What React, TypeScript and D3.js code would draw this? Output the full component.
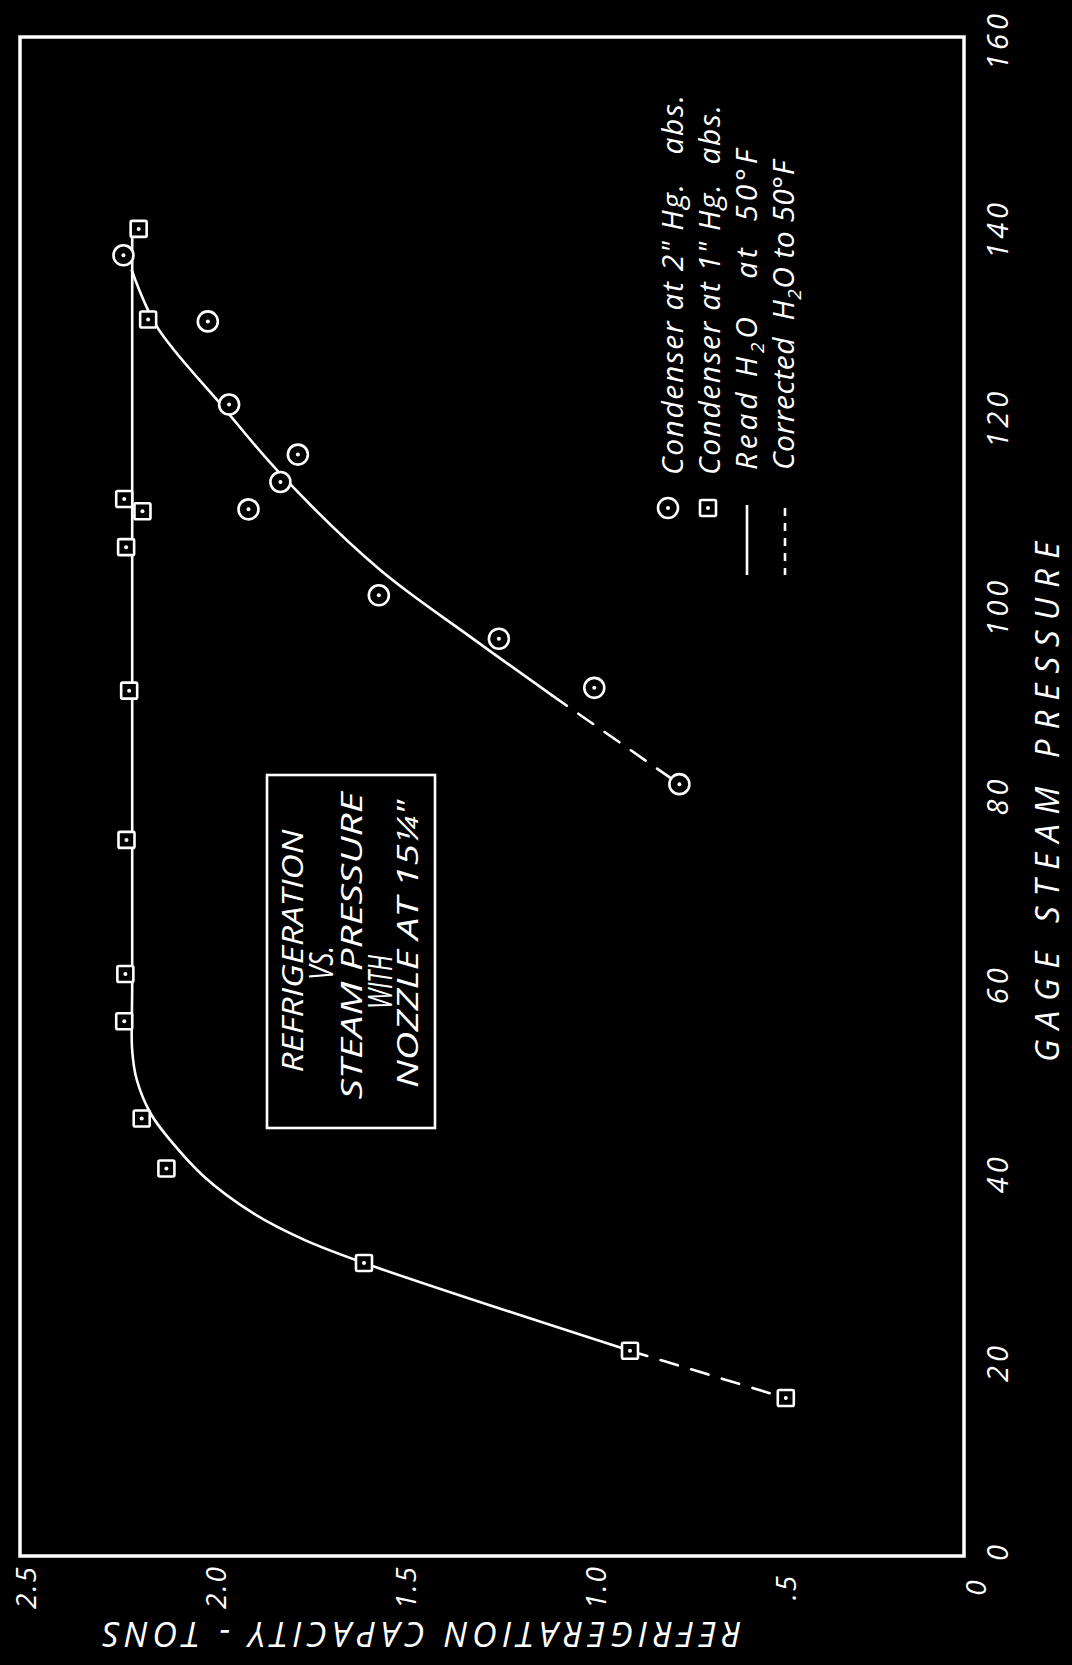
import React, { useEffect } from "react";
import * as d3 from "d3";

// axis ticks
const pressureTicks = [0, 20, 40, 60, 80, 100, 120, 140, 160];
const capacityTicks = [0, 0.5, 1.0, 1.5, 2.0, 2.5];
const capacityTickLabels = ["0", ".5", "1.0", "1.5", "2.0", "2.5"];

// Condenser at 1" Hg abs. (squares)
const sqPressure = [16.2, 21.2, 30.5, 40.5, 45.8, 56.1, 61.1, 75.3, 91.1, 106.3, 111.4, 110.1, 130.4, 140.0];
const sqCapacity = [0.49, 0.9, 1.6, 2.12, 2.185, 2.231, 2.228, 2.225, 2.218, 2.226, 2.231, 2.183, 2.168, 2.193];

// Condenser at 2" Hg abs. (circles)
const ciPressure = [81.2, 91.4, 96.6, 101.2, 110.3, 113.2, 116.1, 121.4, 130.2, 137.2];
const ciCapacity = [0.77, 0.994, 1.245, 1.561, 1.904, 1.82, 1.774, 1.955, 2.011, 2.233];

// Read H2O at 50F (solid curves)
const readSqPressure = [21.2, 30.5, 33.0, 35.8, 39.6, 43.5, 46.3, 49.9, 53, 60, 140];
const readSqCapacity = [0.9, 1.6, 1.76, 1.893, 2.02, 2.11, 2.161, 2.198, 2.21, 2.21, 2.21];
const readCiPressure = [90.6, 96.8, 103.9, 114.1, 121.1, 129.7, 135.6];
const readCiCapacity = [1.105, 1.32, 1.558, 1.821, 1.97, 2.146, 2.211];

// Corrected H2O to 50F (dashed ends)
const corrSqPressure = [16.2, 21.2];
const corrSqCapacity = [0.49, 0.9];
const corrCiPressure = [81.2, 90.6];
const corrCiCapacity = [0.77, 1.105];

const legendLabels = [
  'Condenser at 2" Hg.   abs.',
  'Condenser at 1" Hg.  abs.',
  "Read H|2|O   at  50°F",
  "Corrected  H|2|O to 50°F",
];
const titleLines = ["REFRIGERATION", "VS.", "STEAM  PRESSURE", "WITH", "NOZZLE AT 15¼\""];

const FONT = "'Open Sans', 'DejaVu Sans', sans-serif";

function App() {
  useEffect(() => {
    document.body.style.margin = "0";
    document.body.style.background = "#000";
  }, []);

  const pScale = d3.scaleLinear().domain([0, 160]).range([1551, 40]);
  const cScale = d3.scaleLinear().domain([0, 2.5]).range([972, 22]);

  const line = d3
    .line<[number, number]>()
    .x((d) => cScale(d[1]))
    .y((d) => pScale(d[0]))
    .curve(d3.curveCatmullRom.alpha(0.5));

  const pts = (p: number[], c: number[]) =>
    (d3.zip(p, c) as [number, number][]).sort((a, b) => b[0] - a[0]);

  const squares = d3.zip(sqPressure, sqCapacity);
  const circles = d3.zip(ciPressure, ciCapacity);

  const white = "#fff";

  const renderText = (label: string) => {
    // "|2|" marks a subscript
    const parts = label.split("|");
    return parts.map((s, i) =>
      i % 2 === 1 ? (
        <tspan key={i} dy={7} fontSize={19}>
          {s}
        </tspan>
      ) : (
        <tspan key={i} dy={i > 0 ? -7 : 0}>
          {s}
        </tspan>
      )
    );
  };

  const legendX = [683, 720, 757, 794];
  const legendLen = [380, 370, 320, 309];
  const boxX = [303, 333, 362, 392, 418];
  const boxY = [951, 963, 946, 982, 944];
  const boxLen = [243, 34, 307, 54, 288];
  const boxSize = [29, 32, 29, 32, 29];

  return (
    <svg
      width={1072}
      height={1665}
      style={{ position: "absolute", left: 0, top: 0, display: "block", background: "#000" }}
    >
      <rect x={0} y={0} width={1072} height={1665} fill="#000" />

      {/* frame */}
      <rect
        x={cScale(2.5) - 2}
        y={pScale(160) - 3}
        width={cScale(0) - cScale(2.5) - 6}
        height={pScale(0) - pScale(160) + 8}
        fill="none"
        stroke={white}
        strokeWidth={3.5}
      />

      {/* pressure tick labels */}
      {pressureTicks.map((t) => (
        <text
          key={"p" + t}
          transform={`translate(996,${pScale(t)}) rotate(-90)`}
          textAnchor="middle"
          dominantBaseline="central"
          fill={white}
          fontFamily={FONT}
          fontStyle="italic"
          fontSize={29}
          letterSpacing={4}
        >
          {t}
        </text>
      ))}
      <text
        transform={`translate(1046,802) rotate(-90)`}
        textAnchor="middle"
        dominantBaseline="central"
        fill={white}
        fontFamily={FONT}
        fontStyle="italic"
        fontSize={33}
        textLength={520}
        lengthAdjust="spacing"
      >
        GAGE STEAM PRESSURE
      </text>

      {/* capacity tick labels */}
      {capacityTicks.map((t, i) => (
        <text
          key={"c" + t}
          transform={`translate(${cScale(t) + 3},1587) rotate(-90)`}
          textAnchor="middle"
          dominantBaseline="central"
          fill={white}
          fontFamily={FONT}
          fontStyle="italic"
          fontSize={28}
          letterSpacing={2}
        >
          {capacityTickLabels[i]}
        </text>
      ))}
      <text
        transform={`translate(422,1635) rotate(180)`}
        textAnchor="middle"
        dominantBaseline="central"
        fill={white}
        fontFamily={FONT}
        fontStyle="italic"
        fontSize={34}
        textLength={639}
        lengthAdjust="spacing"
      >
        REFRIGERATION CAPACITY - TONS
      </text>

      {/* curves */}
      <g fill="none" stroke={white} strokeWidth={2.6} strokeLinecap="round">
        <path d={line(pts(readSqPressure, readSqCapacity)) || ""} />
        <path d={line(pts(readCiPressure, readCiCapacity)) || ""} />
        <path d={line(pts(corrSqPressure, corrSqCapacity)) || ""} strokeDasharray="18 14" />
        <path d={line(pts(corrCiPressure, corrCiCapacity)) || ""} strokeDasharray="18 14" />
      </g>

      {/* markers */}
      {squares.map(([p, c], i) => (
        <g key={"s" + i} transform={`translate(${cScale(c)},${pScale(p)})`}>
          <rect x={-8} y={-8} width={16} height={16} rx={1.5} fill="#000" stroke={white} strokeWidth={2.6} />
          <circle r={2} fill={white} />
        </g>
      ))}
      {circles.map(([p, c], i) => (
        <g key={"c" + i} transform={`translate(${cScale(c)},${pScale(p)})`}>
          <circle r={10} fill="#000" stroke={white} strokeWidth={2.6} />
          <circle r={2} fill={white} />
        </g>
      ))}

      {/* title box */}
      <rect x={267} y={775} width={168} height={353} fill="none" stroke={white} strokeWidth={2.6} />
      {titleLines.map((t, i) => (
        <text
          key={"t" + i}
          transform={`translate(${boxX[i]},${boxY[i]}) rotate(-90)`}
          textAnchor="middle"
          fill={white}
          fontFamily={FONT}
          fontStyle="italic"
          fontSize={boxSize[i]}
          textLength={boxLen[i]}
          lengthAdjust="spacingAndGlyphs"
        >
          {t}
        </text>
      ))}

      {/* legend */}
      <g transform="translate(668,508)">
        <circle r={10} fill="#000" stroke={white} strokeWidth={2.6} />
        <circle r={2} fill={white} />
      </g>
      <g transform="translate(708,508)">
        <rect x={-8} y={-8} width={16} height={16} rx={1.5} fill="#000" stroke={white} strokeWidth={2.6} />
        <circle r={2} fill={white} />
      </g>
      <line x1={747} x2={747} y1={505} y2={575} stroke={white} strokeWidth={2.6} />
      <line x1={785} x2={785} y1={508} y2={575} stroke={white} strokeWidth={2.6} strokeDasharray="8 7" />
      {legendLabels.map((l, i) => (
        <text
          key={"l" + i}
          transform={`translate(${legendX[i]},${i < 2 ? 475 : 470}) rotate(-90)`}
          textAnchor="start"
          fill={white}
          fontFamily={FONT}
          fontStyle="italic"
          fontSize={30}
          textLength={legendLen[i]}
          lengthAdjust="spacing"
          style={{ whiteSpace: "pre" }}
        >
          {renderText(l)}
        </text>
      ))}
    </svg>
  );
}

export default App;
